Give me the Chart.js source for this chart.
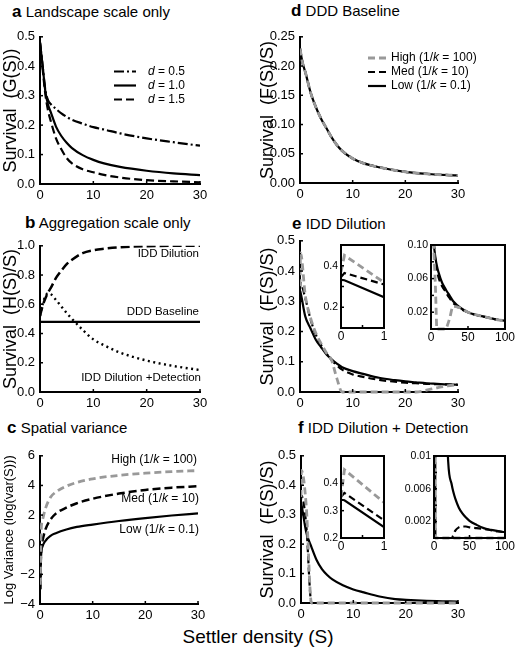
<!DOCTYPE html>
<html>
<head>
<meta charset="utf-8">
<title>Survival vs settler density</title>
<script src="https://cdn.jsdelivr.net/npm/chart.js@4.4.1/dist/chart.umd.min.js"></script>
<style>
  html, body { margin: 0; padding: 0; background: #fff; }
  body { position: relative; width: 516px; height: 652px; overflow: hidden;
         font-family: "Liberation Sans", Arial, Helvetica, sans-serif; color: #000; }
  canvas { position: absolute; }
  .ttl { position: absolute; font-size: 15px; line-height: 18px; white-space: nowrap; }
  .ttl b { font-size: 17px; }
  #xlab { position: absolute; left: 0; width: 516px; top: 625px; text-align: center;
          font-size: 19px; line-height: 24px; }
</style>
</head>
<body>
<div class="ttl" style="left:12px;top:3px"><b>a</b> Landscape scale only</div>
<div class="ttl" style="left:25px;top:214px"><b>b</b> Aggregation scale only</div>
<div class="ttl" style="left:7px;top:419px"><b>c</b> Spatial variance</div>
<div class="ttl" style="left:291px;top:2px"><b>d</b> DDD Baseline</div>
<div class="ttl" style="left:292px;top:215px"><b>e</b> IDD Dilution</div>
<div class="ttl" style="left:298px;top:419px"><b>f</b> IDD Dilution + Detection</div>
<div id="xlab">Settler density (S)</div>

<script>
// ---- values ----

// a: landscape scale only, G(S)
const sA   = [0, 0.25, 0.5, 1, 1.5, 2, 3, 4, 5, 6, 8, 10, 12, 15, 20, 25, 30];
const gD05 = [0.48, 0.44, 0.40, 0.32, 0.285, 0.272, 0.255, 0.24, 0.228, 0.218, 0.205, 0.193, 0.185, 0.172, 0.155, 0.142, 0.13];
const gD10 = [0.48, 0.44, 0.40, 0.315, 0.27, 0.245, 0.195, 0.163, 0.14, 0.122, 0.098, 0.082, 0.07, 0.058, 0.045, 0.036, 0.03];
const gD15 = [0.48, 0.44, 0.39, 0.305, 0.25, 0.215, 0.155, 0.118, 0.088, 0.07, 0.05, 0.04, 0.031, 0.022, 0.013, 0.009, 0.006];

// b: aggregation scale only, H(S)/S
const sB    = [0, 0.5, 1, 1.5, 2, 3, 4, 5, 6, 8, 10, 12, 15, 20, 25, 30];
const hDil  = [0.52, 0.59, 0.64, 0.68, 0.71, 0.78, 0.83, 0.875, 0.905, 0.95, 0.97, 0.98, 0.99, 0.997, 1.0, 1.0];
const hDet  = [0.52, 0.6, 0.655, 0.675, 0.67, 0.63, 0.585, 0.54, 0.5, 0.425, 0.36, 0.32, 0.27, 0.215, 0.178, 0.15];
const sBase = [0, 30];
const hDDD  = [0.48, 0.48];

// c: spatial variance, log(var(S))
const sC    = [0.05, 0.2, 0.5, 1, 2, 3, 5, 7, 10, 15, 20, 25, 30];
const vHigh = [-2.7, 0.8, 1.7, 2.4, 3.2, 3.55, 3.95, 4.2, 4.45, 4.68, 4.83, 4.93, 5.0];
const vMed  = [-3.0, -0.5, 0.3, 1.0, 1.7, 2.1, 2.5, 2.8, 3.1, 3.45, 3.7, 3.85, 3.95];
const vLow  = [-3.0, -0.8, -0.1, 0.25, 0.6, 0.78, 1.03, 1.2, 1.36, 1.6, 1.8, 1.97, 2.12];

// d: DDD baseline, F(S)/S (the three aggregation levels coincide)
const sD   = [0, 0.5, 1, 2, 3, 4, 5, 6, 7, 8, 10, 12, 15, 20, 25, 30];
const fDDD = [0.23, 0.205, 0.19, 0.155, 0.13, 0.11, 0.094, 0.078, 0.065, 0.055, 0.042, 0.034, 0.027, 0.019, 0.015, 0.013];

// e: IDD dilution, main plot and insets
const sE    = [0, 0.1, 1, 2, 3, 4, 5, 6, 7, 8, 10, 12, 15, 18, 20, 22, 24, 26, 28, 30];
const eHigh = [0.35, 0.46, 0.32, 0.245, 0.195, 0.16, 0.13, 0.105, 0.045, 0, 0, 0, 0, 0, 0, 0, 0.006, 0.014, 0.02, 0.025];
const eMed  = [0.34, 0.36, 0.31, 0.24, 0.19, 0.155, 0.128, 0.106, 0.088, 0.074, 0.058, 0.05, 0.04, 0.034, 0.031, 0.029, 0.027, 0.026, 0.025, 0.024];
const eLow  = [0.335, 0.33, 0.25, 0.21, 0.173, 0.148, 0.125, 0.108, 0.094, 0.082, 0.069, 0.06, 0.047, 0.039, 0.035, 0.032, 0.029, 0.027, 0.025, 0.024];
const sEi    = [0, 0.08, 1];
const eiHigh = [0.37, 0.45, 0.32];
const eiMed  = [0.345, 0.365, 0.31];
const eiLow  = [0.332, 0.33, 0.248];
const sEr    = [2, 4, 6, 8, 10, 15, 20, 22, 25, 30, 40, 50, 60, 70, 80, 90, 100];
const erHigh = [0.13, 0.09, 0.05, 0, 0, 0, 0, 0.004, 0.012, 0.027, 0.025, 0.02, 0.017, 0.015, 0.013, 0.011, 0.01];
const erMed  = [0.13, 0.1, 0.08, 0.07, 0.062, 0.051, 0.044, 0.041, 0.037, 0.031, 0.024, 0.02, 0.017, 0.015, 0.013, 0.011, 0.01];
const erLow  = [0.13, 0.1, 0.085, 0.075, 0.068, 0.055, 0.047, 0.044, 0.04, 0.033, 0.025, 0.02, 0.017, 0.015, 0.013, 0.011, 0.01];

// f: IDD dilution + detection, main plot and insets
const sF    = [0, 0.08, 1, 2, 3, 4, 5, 6, 8, 10, 12, 15, 18, 21, 24, 27, 30];
const fHigh = [0.36, 0.45, 0.33, 0, 0, 0, 0, 0, 0, 0, 0, 0, 0, 0, 0, 0, 0];
const fMed  = [0.35, 0.365, 0.265, 0, 0, 0, 0, 0, 0, 0, 0, 0, 0, 0, 0, 0.0004, 0.001];
const fLow  = [0.34, 0.335, 0.24, 0.19, 0.145, 0.115, 0.095, 0.08, 0.06, 0.046, 0.036, 0.022, 0.013, 0.01, 0.0075, 0.006, 0.0045];
const sFi    = [0, 0.08, 1];
const fiHigh = [0.35, 0.45, 0.33];
const fiMed  = [0.35, 0.365, 0.265];
const fiLow  = [0.34, 0.338, 0.24];
const sFr    = [0, 2, 5, 10, 15, 20, 25, 27, 30, 35, 40, 45, 50, 60, 70, 80, 90, 100];
const frHigh = [0.36, 0, 0, 0, 0, 0, 0, 0, 0, 0, 0, 0, 0, 0, 0, 0, 0, 0];
const frMed  = [0.35, 0, 0, 0, 0, 0, 0, 0.0003, 0.0009, 0.0013, 0.0014, 0.0014, 0.0013, 0.0012, 0.0011, 0.00095, 0.0008, 0.0007];
const frLow  = [0.34, 0.19, 0.095, 0.046, 0.022, 0.0093, 0.0065, 0.0057, 0.0048, 0.0037, 0.003, 0.0025, 0.0021, 0.0016, 0.0012, 0.001, 0.00085, 0.0007];

// ---- styling ----
const FONT = '"Liberation Sans", Arial, Helvetica, sans-serif';
Chart.defaults.font.family = FONT;
Chart.defaults.color = '#000';
const GRAY = '#999999';

function pts(xs, ys) { return xs.map((x, i) => ({x: x, y: ys[i]})); }
function line(xs, ys, style) {
  return Object.assign({
    data: pts(xs, ys), borderColor: '#000', borderWidth: 2.2, pointRadius: 0, fill: false,
    cubicInterpolationMode: 'monotone', clip: {left: 0, top: 0, right: 0, bottom: 2}
  }, style || {});
}
const solid  = {};
const dashK  = {borderDash: [7, 4]};
const dashG  = {borderColor: GRAY, borderWidth: 2.8, borderDash: [7, 4]};
const straight = {cubicInterpolationMode: 'default', tension: 0};

// text and legend samples, given in page pixels
const notesPlugin = {
  id: 'notes',
  afterDraw(chart, args, opts) {
    const ctx = chart.ctx;
    (opts.items || []).forEach(it => {
      ctx.save();
      const y = it.y - opts.oy;
      if (it.ds !== undefined) {
        const d = chart.data.datasets[it.ds];
        ctx.strokeStyle = d.borderColor;
        ctx.lineWidth = d.borderWidth;
        ctx.setLineDash(d.borderDash || []);
        ctx.beginPath();
        ctx.moveTo(it.x1 - opts.ox, y);
        ctx.lineTo(it.x2 - opts.ox, y);
        ctx.stroke();
      }
      const size = it.size || 12;
      const font = r => (r[1] ? 'italic ' : '') + size + 'px ' + FONT;
      let w = 0;
      it.runs.forEach(r => { ctx.font = font(r); w += ctx.measureText(r[0]).width; });
      let x = (it.align === 'right' ? it.tx - w : it.tx) - opts.ox;
      ctx.fillStyle = '#000';
      ctx.textBaseline = 'middle';
      it.runs.forEach(r => { ctx.font = font(r); ctx.fillText(r[0], x, y); x += ctx.measureText(r[0]).width; });
      ctx.restore();
    });
  }
};

// inward tick marks, plus white fill and box for the insets
const framePlugin = {
  id: 'frame',
  beforeDraw(chart, args, o) {
    if (!o.box) return;
    const a = chart.chartArea, c = chart.ctx;
    c.save();
    c.fillStyle = '#fff';
    c.fillRect(a.left, a.top, a.right - a.left, a.bottom - a.top);
    c.restore();
  },
  afterDraw(chart, args, o) {
    const a = chart.chartArea, c = chart.ctx, len = 3;
    c.save();
    c.strokeStyle = '#000';
    c.lineWidth = 1.5;
    const xs = chart.scales.x, ys = chart.scales.y;
    xs.ticks.forEach(t => {
      const p = xs.getPixelForValue(t.value);
      if (Math.abs(p - a.left) < 2 || (o.box && Math.abs(p - a.right) < 2)) return;
      c.beginPath(); c.moveTo(p, a.bottom); c.lineTo(p, a.bottom - len); c.stroke();
    });
    ys.ticks.forEach(t => {
      const p = ys.getPixelForValue(t.value);
      if (Math.abs(p - a.bottom) < 2 || (o.box && Math.abs(p - a.top) < 2)) return;
      c.beginPath(); c.moveTo(a.left, p); c.lineTo(a.left + len, p); c.stroke();
    });
    if (o.box) {
      c.lineWidth = 2;
      c.strokeRect(a.left, a.top, a.right - a.left, a.bottom - a.top);
    }
    c.restore();
  }
};

function fixed(dec) { return v => (v < 0 ? '\u2212' : '') + Math.abs(v).toFixed(dec); }
function only(list, f) { return v => list.some(q => Math.abs(q - v) < 1e-9) ? f(v) : ''; }

function panel(o) {
  const {l, t, r, b} = o.box;
  const leftW = o.leftW, padT = o.padT || 10, padR = o.padR || 12, botH = o.botH || 20;
  const W = r - l + leftW + padR, H = b - t + padT + botH;
  const ox = l - leftW, oy = t - padT;
  const inset = !!o.inset;
  const cv = document.createElement('canvas');
  cv.width = W; cv.height = H;
  Object.assign(cv.style, {left: ox + 'px', top: oy + 'px', width: W + 'px', height: H + 'px'});
  document.body.appendChild(cv);
  return new Chart(cv, {
    type: 'line',
    data: {datasets: o.datasets},
    options: {
      responsive: false, animation: false, devicePixelRatio: 1,
      layout: {padding: {left: 0, top: padT, right: padR, bottom: 0}},
      plugins: {
        legend: {display: false}, tooltip: {enabled: false},
        notes: {ox: ox, oy: oy, items: o.notes || []},
        frame: {box: inset}
      },
      scales: {
        x: {
          type: 'linear', min: o.x[0], max: o.x[1],
          afterFit: s => { s.height = botH; },
          grid: {display: false, drawTicks: false},
          border: {display: !inset, width: 2, color: '#000'},
          ticks: {stepSize: o.x[2], autoSkip: false, maxRotation: 0, padding: o.xPad || 4,
                  font: {size: o.xFont || 13}, callback: o.xFmt || (v => String(v))}
        },
        y: {
          type: 'linear', min: o.y[0], max: o.y[1],
          afterFit: s => { s.width = leftW; },
          grid: {display: false, drawTicks: false},
          border: {display: !inset, width: 2, color: '#000'},
          ticks: {stepSize: o.y[2], autoSkip: false, padding: o.yPad || 5,
                  font: {size: o.yFont || 13}, callback: o.yFmt},
          title: {display: !!o.title, text: o.title || '',
                  font: {size: o.titleSize || 18, lineHeight: 1},
                  padding: {top: o.titlePad || 2, bottom: 0}}
        }
      }
    },
    plugins: [notesPlugin, framePlugin]
  });
}

const kRuns = (a, b) => [[a, 0], ['k', 1], [b, 0]];

// a
panel({
  box: {l: 40, t: 34, r: 200, b: 184}, leftW: 40,
  x: [0, 30, 10], y: [0, 0.5, 0.1], yFmt: fixed(1),
  title: 'Survival  (G(S))',
  datasets: [
    line(sA, gD05, {borderDash: [10, 3, 2, 3]}),
    line(sA, gD10, solid),
    line(sA, gD15, {borderDash: [8, 4]})
  ],
  notes: [
    {ds: 0, x1: 114, x2: 136, y: 71.5, tx: 148, runs: [['d', 1], [' = 0.5', 0]]},
    {ds: 1, x1: 114, x2: 136, y: 85.5, tx: 148, runs: [['d', 1], [' = 1.0', 0]]},
    {ds: 2, x1: 114, x2: 136, y: 99.5, tx: 148, runs: [['d', 1], [' = 1.5', 0]]}
  ]
});

// b
panel({
  box: {l: 40, t: 243, r: 200, b: 392}, leftW: 40,
  x: [0, 30, 10], y: [0, 1, 0.2], yFmt: fixed(1),
  title: 'Survival  (H(S)/S)',
  datasets: [
    line(sB, hDil, {borderDash: [9, 4], borderWidth: 2.5}),
    line(sBase, hDDD, solid),
    line(sB, hDet, {borderDash: [2, 3.5], borderWidth: 2.4})
  ],
  notes: [
    {tx: 199, y: 254, align: 'right', size: 11.5, runs: [['IDD Dilution', 0]]},
    {tx: 199, y: 312, align: 'right', size: 11.5, runs: [['DDD Baseline', 0]]},
    {tx: 201, y: 378, align: 'right', size: 11.5, runs: [['IDD Dilution +Detection', 0]]}
  ]
});

// c
panel({
  box: {l: 40, t: 453, r: 198, b: 604}, leftW: 40,
  x: [0, 30, 10], y: [-4, 6, 2], yFmt: fixed(0),
  title: 'Log Variance (log(var(S)))', titleSize: 13, titlePad: 2.5,
  datasets: [
    line(sC, vHigh, dashG),
    line(sC, vMed, {borderDash: [8, 4], borderWidth: 2.5}),
    line(sC, vLow, solid)
  ],
  notes: [
    {tx: 197, y: 460, align: 'right', runs: kRuns('High (1/', ' = 100)')},
    {tx: 199, y: 499, align: 'right', runs: kRuns('Med (1/', ' = 10)')},
    {tx: 199, y: 530, align: 'right', runs: kRuns('Low (1/', ' = 0.1)')}
  ]
});

// d
panel({
  box: {l: 300, t: 34, r: 458, b: 183}, leftW: 43, padR: 40,
  x: [0, 30, 10], y: [0, 0.25, 0.05], yFmt: fixed(2),
  title: 'Survival  (F(S)/S)',
  datasets: [
    line(sD, fDDD, dashG),
    line(sD, fDDD, dashK),
    line(sD, fDDD, solid)
  ],
  notes: [
    {ds: 0, x1: 368, x2: 386, y: 58, tx: 391, runs: kRuns('High (1/', ' = 100)')},
    {ds: 1, x1: 368, x2: 386, y: 72, tx: 391, runs: kRuns('Med (1/', ' = 10)')},
    {ds: 2, x1: 368, x2: 386, y: 86, tx: 391, runs: kRuns('Low (1/', ' = 0.1)')}
  ]
});

// e
panel({
  box: {l: 300, t: 238, r: 458, b: 392}, leftW: 43,
  x: [0, 30, 10], y: [0, 0.5, 0.1], yFmt: fixed(1),
  title: 'Survival  (F(S)/S)',
  datasets: [line(sE, eHigh, dashG), line(sE, eMed, dashK), line(sE, eLow, solid)]
});
panel({
  box: {l: 341, t: 245, r: 384, b: 328}, leftW: 22, padR: 8, botH: 16, inset: true,
  x: [0, 1, 0.5], y: [0.1, 0.5, 0.1], xFont: 12, yFont: 10.5, xPad: 1, yPad: 3,
  xFmt: only([0, 1], fixed(0)), yFmt: only([0.2, 0.4], fixed(1)),
  datasets: [
    line(sEi, eiHigh, Object.assign({}, dashG, straight)),
    line(sEi, eiMed, Object.assign({}, dashK, straight)),
    line(sEi, eiLow, straight)
  ]
});
panel({
  box: {l: 431, t: 245, r: 505, b: 329}, leftW: 26, padR: 11, botH: 16, inset: true,
  x: [0, 100, 50], y: [0, 0.1, 0.02], xFont: 12, yFont: 10.5, xPad: 1, yPad: 3,
  yFmt: only([0.02, 0.06, 0.1], fixed(2)),
  datasets: [line(sEr, erHigh, dashG), line(sEr, erMed, dashK), line(sEr, erLow, solid)]
});

// f
panel({
  box: {l: 301, t: 453, r: 458, b: 603}, leftW: 44,
  x: [0, 30, 10], y: [0, 0.5, 0.1], yFmt: fixed(1),
  title: 'Survival  (F(S)/S)',
  datasets: [line(sF, fHigh, dashG), line(sF, fMed, dashK), line(sF, fLow, solid)]
});
panel({
  box: {l: 341, t: 456, r: 384, b: 538}, leftW: 22, padR: 8, botH: 16, inset: true,
  x: [0, 1, 0.5], y: [0.2, 0.5, 0.1], xFont: 12, yFont: 10.5, xPad: 1, yPad: 3,
  xFmt: only([0, 1], fixed(0)), yFmt: only([0.2, 0.3, 0.4], fixed(1)),
  datasets: [
    line(sFi, fiHigh, Object.assign({}, dashG, straight)),
    line(sFi, fiMed, Object.assign({}, dashK, straight)),
    line(sFi, fiLow, straight)
  ]
});
panel({
  box: {l: 434, t: 456, r: 505, b: 538}, leftW: 32, padR: 11, botH: 16, inset: true,
  x: [0, 100, 50], y: [0, 0.01, 0.002], xFont: 12, yFont: 10.5, xPad: 1, yPad: 3,
  yFmt: v => Math.abs(v - 0.01) < 1e-9 ? '0.01' : only([0.002, 0.006], fixed(3))(v),
  datasets: [line(sFr, frHigh, dashG), line(sFr, frMed, dashK), line(sFr, frLow, solid)]
});
</script>
</body>
</html>
